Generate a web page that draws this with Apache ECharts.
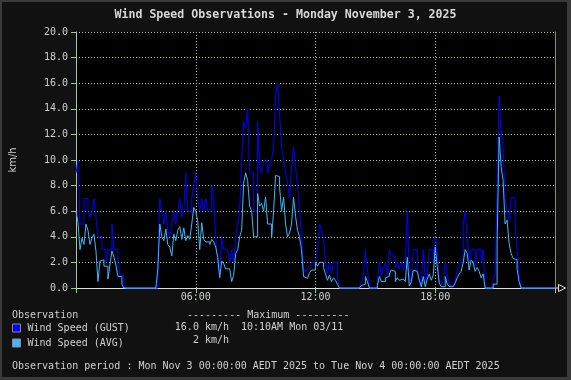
<!DOCTYPE html>
<html><head><meta charset="utf-8">
<script src="https://cdn.jsdelivr.net/npm/echarts@6/dist/echarts.min.js"></script>
<style>
html,body{margin:0;padding:0;background:#111;}
#c{width:571px;height:380px;position:absolute;left:0;top:0;}
#frame{position:absolute;left:0;top:0;width:571px;height:380px;box-sizing:border-box;border-style:solid;border-color:#3a3a3a;border-width:2px 4px 3px 2px;pointer-events:none;}
</style></head><body>
<div id="c"></div><div id="frame"></div>
<script>
const titleText = 'Wind Speed Observations - Monday November 3, 2025';
const seriesNames = ['Wind Speed (GUST)', 'Wind Speed (AVG)'];
const slotMinutes = 6;
// Gust (km/h), one value per 6-minute slot from 00:00
const gustValues = [
 9,10,5,5,7,7,6,5.5,6,7,
 5.5,4,4,3,3,2,3,3,5,3,
 3,2,1,1,0.3,0,0,0,0,0,
 0,0,0,0,0,0,0,0,0,0,
 0,2,7,6,5,6,4.5,4,5,6,
 5,6,7,5.5,6,9,6,6,7,8,
 9,7,6,7,6,7,6,6,8,7,
 4,2,1,4,3,3,3,2,3,2,
 4,5,6,10,13,12.5,14,9,9,6,
 6,13,9.5,9,10,10,9,9.5,10,11,
 15,16,13.6,11,10,9,8.2,7,9.5,11,
 9.5,8,6,4,1.5,1.2,1.5,1.7,2,2,
 2,3,5,4.5,4,2,1.1,2,1.1,2,
 2,0.8,0,0,0,0,0,0,0,0,
 0,0,0,0.5,1,3,1.5,0,0,0,
 0,0.5,2,1,1.5,2,1,3,2.5,2.5,
 1.5,2,1.5,2,1.4,2,6,0.8,0.4,3,
 3,1.4,0.6,0.3,3,0.5,1.1,3,3,2,
 4,3,0.6,0.3,0.5,2,1.1,0.2,0.2,0.2,
 0.6,1.4,2,2,5,6,4,2,3,3,
 1.7,3,3,2,3,0,0,0,0,0.6,
 1.1,7.5,15,12,11,7,6,5.3,7.1,7,
 5,3,1.1,0,0,0,0,0,0,0,
 0,0,0,0,0,0,0,0,0,0
];
// Average (km/h), one value per 6-minute slot from 00:00
const avgValues = [
 6,5.1,3,3.9,3.4,5,4.5,3.4,3.9,4.2,
 2.9,0.5,2.1,2.2,1.7,1.7,0.7,1.8,2.9,2.4,
 1.8,0.9,0.9,0.3,0,0,0,0,0,0,
 0,0,0,0,0,0,0,0,0,0,
 0,1.5,5,4,3.7,4.6,3.4,3.2,2.5,4.2,
 3.7,4.5,4.8,3.8,4.7,3.7,4.1,3.8,5,6.3,
 6,5.2,3,5.1,3.8,3.6,3.6,3.4,3.8,3.6,
 3.2,2.4,0.8,2.1,1.9,1.5,1.5,1.5,0.5,1,
 2.7,3,4,4.5,8.2,9,8.4,6.4,6,4,
 4,7.4,6.4,6.6,6,7.1,5,5,3.9,6,
 8.8,8.7,7.9,6,7.1,5,4,4.3,5,7.1,
 5.6,4.5,4,3,0.9,0.75,0.6,1.2,1.4,1.4,
 2,1.7,2,2,1.6,1.1,0.6,1,0.5,0.8,
 0.6,0.3,0,0,0,0,0,0,0,0,
 0,0,0,0.2,0.3,0.9,0.5,0,0,0,
 0,0.2,0.9,0.5,0.5,0.8,0.9,1.1,1.4,1.3,
 0.5,0.8,0.6,0.7,0.8,0.5,2.4,0.15,0.5,1.4,
 1.3,1.2,0.6,0.1,0.9,0.1,0.7,1.1,0.6,1,
 3.2,1.7,0.4,0.1,0.1,0.9,0.3,0.1,0.1,0.1,
 0.4,0.8,1.1,1.3,2,3,2.7,1.4,2.2,2,
 1.3,1.6,1.3,0.8,1.1,0,0,0,0,0.3,
 0.3,3.5,11.8,9.5,8.4,5,5.3,3.5,2.7,2.3,
 2.2,1.5,0.5,0,0,0,0,0,0,0,
 0,0,0,0,0,0,0,0,0,0
];
const xTickLabels = {6:'06:00', 12:'12:00', 18:'18:00'};
const yMin = 0, yMax = 20, yStep = 2;
const legendHeader = 'Observation';
const maxHeader = '--------- Maximum ---------';
const gustMaxText = '16.0 km/h';
const gustMaxTime = '10:10AM Mon 03/11';
const avgMaxText = '2 km/h';
const periodText = 'Observation period : Mon Nov 3 00:00:00 AEDT 2025 to Tue Nov 4 00:00:00 AEDT 2025';

// each slot value is held from its start time to the next slot's start
function toSteps(vals){
  const out = [];
  vals.forEach((v,i)=>{
    out.push([i*slotMinutes/60, v]);
    out.push([(i+1)*slotMinutes/60, v]);
  });
  return out;
}

const mono = 'DejaVu Sans Mono';
const txt = '#d0d0d0';
const gridCol = '#9fcf9f';
const chart = echarts.init(document.getElementById('c'), null, {renderer:'canvas'});
chart.setOption({
  backgroundColor:'#111111',
  animation:false,
  title:{text:titleText, left:'center', top:8, padding:0,
    textStyle:{color:'#d8d8d8', fontFamily:mono, fontSize:11.6, fontWeight:'bold', lineHeight:14}},
  grid:{left:76, right:16, top:32, bottom:92, show:true, backgroundColor:'#000000', borderWidth:0},
  xAxis:{type:'value', min:0, max:24, interval:6,
    axisLine:{show:true, onZero:false, lineStyle:{color:'#dddddd', width:1}},
    axisTick:{show:true, length:5, lineStyle:{color:gridCol}},
    axisLabel:{color:txt, fontFamily:mono, fontSize:10, margin:4, formatter:v=>xTickLabels[v]||''},
    splitLine:{show:true, lineStyle:{color:gridCol, type:[1,2], width:1}}},
  yAxis:[{type:'value', min:yMin, max:yMax, interval:yStep,
    name:'km/h', nameLocation:'middle', nameGap:58, nameRotate:90,
    nameTextStyle:{color:txt, fontFamily:'DejaVu Sans', fontSize:10},
    axisLine:{show:true, lineStyle:{color:'#a8c890'}},
    axisTick:{show:true, length:5, lineStyle:{color:'#a8c890'}},
    axisLabel:{color:txt, fontFamily:mono, fontSize:10, margin:8, formatter:v=>v.toFixed(1)},
    splitLine:{show:true, lineStyle:{color:gridCol, type:[1,2], width:1}}},
   {type:'value', min:yMin, max:yMax, interval:yStep, position:'right',
    axisLine:{show:true, lineStyle:{color:'#8c8c46'}}, axisTick:{show:false},
    axisLabel:{show:false}, splitLine:{show:false}}],
  legend:{orient:'vertical', left:12, top:323, itemWidth:8, itemHeight:8, itemGap:5, icon:'rect', padding:0,
    selectedMode:false,
    textStyle:{color:txt, fontFamily:mono, fontSize:10, lineHeight:8, padding:[0,0,0,2]},
    itemStyle:{borderColor:'#8a8a8a', borderWidth:1},
    data:seriesNames},
  series:[
    {name:seriesNames[0], type:'line', data:toSteps(gustValues), symbol:'none', clip:false, sampling:null,
      lineStyle:{color:'#0000ff', width:1}, itemStyle:{color:'#0000ff'}, z:2},
    {name:seriesNames[1], type:'line', data:toSteps(avgValues), symbol:'none', clip:false, sampling:null,
      lineStyle:{color:'#3fb6ff', width:1}, itemStyle:{color:'#3fb6ff'}, z:3}
  ],
  graphic:[
    {type:'text', x:12, y:315, style:{text:legendHeader, fill:txt, font:'10px "DejaVu Sans Mono"', verticalAlign:'middle'}},
    {type:'text', x:187, y:315, style:{text:maxHeader, fill:txt, font:'10px "DejaVu Sans Mono"', verticalAlign:'middle'}},
    {type:'text', x:229, y:327.5, style:{text:gustMaxText, fill:txt, font:'10px "DejaVu Sans Mono"', align:'right', verticalAlign:'middle'}},
    {type:'text', x:241, y:327.5, style:{text:gustMaxTime, fill:txt, font:'10px "DejaVu Sans Mono"', verticalAlign:'middle'}},
    {type:'text', x:229, y:340.5, style:{text:avgMaxText, fill:txt, font:'10px "DejaVu Sans Mono"', align:'right', verticalAlign:'middle'}},
    {type:'text', x:12, y:366.5, style:{text:periodText, fill:txt, font:'10px "DejaVu Sans Mono"', verticalAlign:'middle'}},
    {type:'polyline', shape:{points:[[555,288],[558,288]]}, style:{stroke:'#dddddd', lineWidth:1}},
    {type:'polygon', shape:{points:[[558.5,284.5],[565.5,288],[558.5,291.5]]}, style:{stroke:'#dddddd', fill:'#111111', lineWidth:1}}
  ]
});
</script>
</body></html>
